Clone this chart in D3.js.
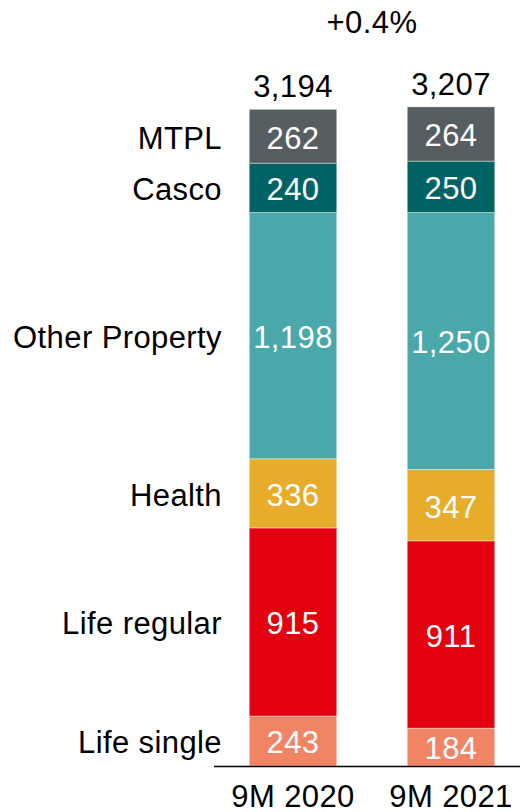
<!DOCTYPE html>
<html>
<head>
<meta charset="utf-8">
<script src="https://cdn.jsdelivr.net/npm/d3@7"></script>
<style>
  body { margin: 0; background: #fff; }
  text { font-family: "Liberation Sans", Arial, sans-serif; letter-spacing: 0.4px; }
</style>
</head>
<body>
<div id="chart"></div>
<script>
// data, bottom to top
const periods = ["9M 2020", "9M 2021"];
const segments = ["Life single", "Life regular", "Health", "Other Property", "Casco", "MTPL"];
const values2020 = [243, 915, 336, 1198, 240, 262];
const values2021 = [184, 911, 347, 1250, 250, 264];
const totals = [3194, 3207];
const changeLabel = "+0.4%";
const colors = ["#f08464", "#e3000f", "#e6ac2a", "#4aa7aa", "#006262", "#575e61"];

const W = 520, H = 812;
const BASE = 766;
const FS = 31;

const svg = d3.select("#chart").append("svg")
    .attr("width", W)
    .attr("height", H);

const x = d3.scaleBand()
    .domain(periods)
    .range([214, 530])
    .paddingInner(0.446)
    .paddingOuter(0.223);

const y = d3.scaleLinear()
    .domain([0, 3500])
    .range([BASE, BASE - 3500 * 0.2056]);

const color = d3.scaleOrdinal().domain(segments).range(colors);

// build stacked table
const table = periods.map((p, i) => {
    const row = { period: p };
    const vals = i === 0 ? values2020 : values2021;
    segments.forEach((s, j) => row[s] = vals[j]);
    return row;
});
const stacked = d3.stack().keys(segments)(table);

const fmt = d3.format(",");

const layer = svg.selectAll("g.layer")
    .data(stacked)
    .enter()
    .append("g")
    .attr("class", "layer")
    .attr("fill", d => color(d.key));

layer.selectAll("rect")
    .data(d => d)
    .enter()
    .append("rect")
    .attr("x", d => x(d.data.period))
    .attr("width", x.bandwidth())
    .attr("y", d => y(d[1]))
    .attr("height", d => y(d[0]) - y(d[1]))
    .attr("stroke", "#fff")
    .attr("stroke-opacity", 0.5)
    .attr("stroke-width", 0.8);

// values inside segments
layer.selectAll("text")
    .data(d => d)
    .enter()
    .append("text")
    .attr("x", d => x(d.data.period) + x.bandwidth() / 2)
    .attr("y", d => (y(d[0]) + y(d[1])) / 2)
    .attr("dy", "0.4em")
    .attr("text-anchor", "middle")
    .attr("fill", "#fff")
    .attr("font-size", FS)
    .text(d => fmt(d[1] - d[0]));

// category labels, aligned to first bar
const first = stacked.map(s => ({ key: s.key, v: s[0] }));
svg.selectAll("text.cat")
    .data(first)
    .enter()
    .append("text")
    .attr("class", "cat")
    .attr("x", 222)
    .attr("y", d => (y(d.v[0]) + y(d.v[1])) / 2)
    .attr("dy", "0.4em")
    .attr("text-anchor", "end")
    .attr("fill", "#000")
    .attr("font-size", FS)
    .text(d => d.key);

// totals
svg.selectAll("text.total")
    .data(totals)
    .enter()
    .append("text")
    .attr("class", "total")
    .attr("x", (d, i) => x(periods[i]) + x.bandwidth() / 2)
    .attr("y", d => y(d) - 12)
    .attr("text-anchor", "middle")
    .attr("fill", "#000")
    .attr("font-size", FS)
    .text(d => fmt(d));

// change label
svg.append("text")
    .attr("x", (x(periods[0]) + x(periods[1]) + x.bandwidth()) / 2)
    .attr("y", 33)
    .attr("text-anchor", "middle")
    .attr("fill", "#000")
    .attr("font-size", FS)
    .text(changeLabel);

// x axis
const axis = svg.append("g")
    .attr("transform", `translate(0,${BASE})`)
    .call(d3.axisBottom(x).tickSize(0).tickPadding(41));
axis.select(".domain")
    .attr("d", `M214,0.5H520`)
    .attr("stroke", "#000")
    .attr("stroke-width", 1.5);
axis.selectAll("text")
    .attr("font-size", FS)
    .attr("fill", "#000")
    .attr("font-family", "Liberation Sans, Arial, sans-serif")
    .attr("dy", 0);
</script>
</body>
</html>
